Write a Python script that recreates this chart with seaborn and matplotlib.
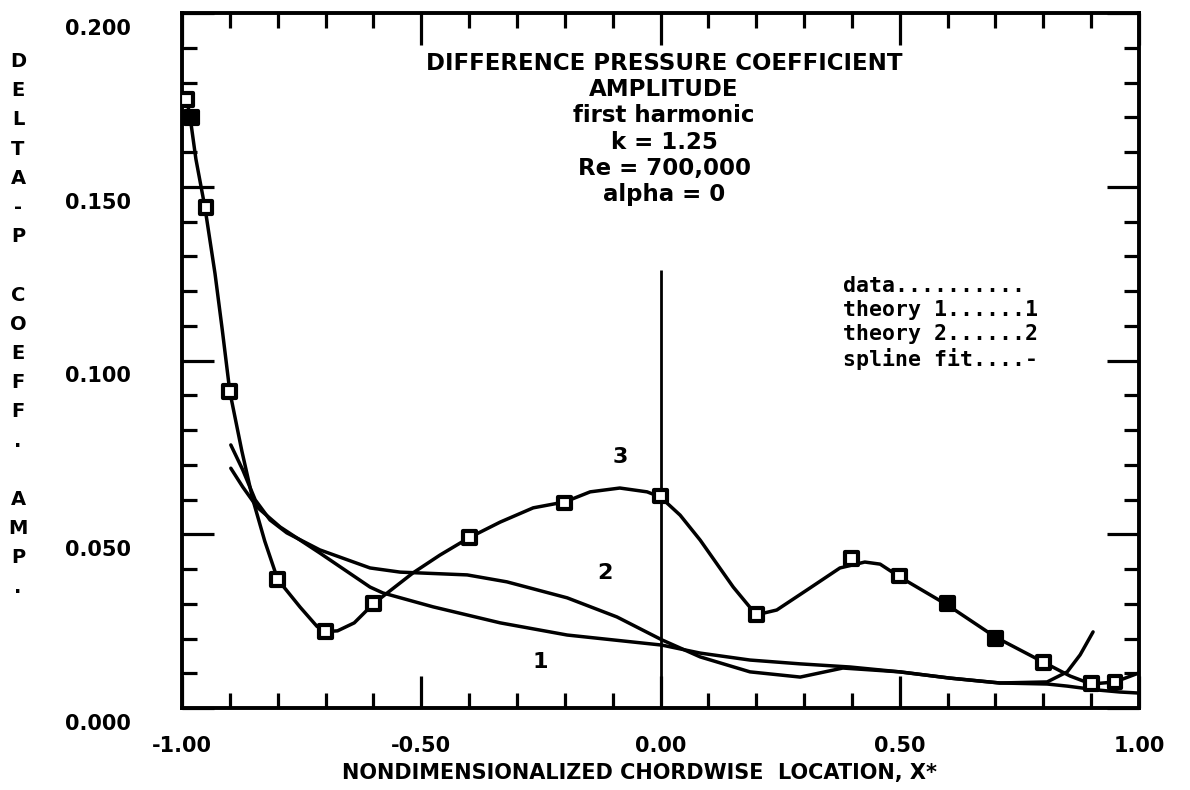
import matplotlib
matplotlib.use("Agg")
import matplotlib.pyplot as plt
import matplotlib.transforms as mtransforms
from matplotlib.ticker import MultipleLocator
import pandas as pd
import seaborn as sns

# ---- measured difference-pressure amplitude (data points) ----
data_x = [-0.99, -0.98, -0.95, -0.90, -0.80, -0.70, -0.60, -0.40, -0.20, 0.00,
          0.20, 0.40, 0.50, 0.60, 0.70, 0.80, 0.90, 0.95]
data_y = [0.175, 0.170, 0.144, 0.091, 0.037, 0.022, 0.030, 0.049, 0.059, 0.061,
          0.027, 0.043, 0.038, 0.030, 0.020, 0.013, 0.007, 0.0075]

# ---- spline fit through the data ----
spline_x = [-0.99, -0.983, -0.971, -0.952, -0.931, -0.916, -0.90, -0.875, -0.852, -0.827,
            -0.80, -0.753, -0.718, -0.70, -0.675, -0.64, -0.60, -0.517, -0.461, -0.40,
            -0.335, -0.266, -0.20, -0.147, -0.085, -0.028, 0.0, 0.041, 0.083, 0.152,
            0.20, 0.243, 0.312, 0.375, 0.427, 0.459, 0.50, 0.60, 0.70, 0.80,
            0.856, 0.90, 0.95, 1.0]
spline_y = [0.175, 0.170, 0.158, 0.144, 0.125, 0.109, 0.091, 0.074, 0.060, 0.048,
            0.037, 0.029, 0.0235, 0.022, 0.0222, 0.0245, 0.030, 0.0389, 0.044, 0.049,
            0.0535, 0.0576, 0.0593, 0.0622, 0.0633, 0.0622, 0.0607, 0.0555, 0.0483, 0.0348,
            0.0268, 0.0282, 0.0345, 0.0403, 0.042, 0.0414, 0.0377, 0.0296, 0.0204, 0.0132,
            0.0092, 0.0069, 0.0075, 0.0101]

# ---- theory 1 ----
theory1_x = [-0.898, -0.873, -0.843, -0.795, -0.712, -0.607, -0.580, -0.475, -0.335, -0.195,
             0.003, 0.083, 0.187, 0.292, 0.396, 0.50, 0.605, 0.709, 0.808, 0.85,
             0.912, 0.96, 1.0]
theory1_y = [0.069, 0.0636, 0.0578, 0.0521, 0.0446, 0.0348, 0.0331, 0.0291, 0.0245, 0.021,
             0.0181, 0.0158, 0.0138, 0.0127, 0.0118, 0.0104, 0.0086, 0.0072, 0.0069, 0.0063,
             0.0052, 0.0046, 0.0043]

# ---- theory 2 ----
theory2_x = [-0.898, -0.873, -0.847, -0.816, -0.781, -0.712, -0.607, -0.544, -0.404, -0.321,
             -0.195, -0.091, 0.003, 0.083, 0.187, 0.292, 0.381, 0.50, 0.605, 0.709,
             0.808, 0.85, 0.877, 0.904]
theory2_y = [0.0757, 0.0685, 0.0599, 0.0541, 0.0504, 0.0455, 0.0403, 0.0391, 0.0383, 0.0363,
             0.0317, 0.0262, 0.0196, 0.0147, 0.0104, 0.0089, 0.0115, 0.0104, 0.0086, 0.0072,
             0.0075, 0.0104, 0.0153, 0.0219]

# mid-chord marker line height
midchord_top = 0.126

x_ticks = [-1.0, -0.5, 0.0, 0.5, 1.0]
x_tick_labels = ["-1.00", "-0.50", "0.00", "0.50", "1.00"]
y_ticks = [0.0, 0.05, 0.10, 0.15, 0.20]
y_tick_labels = ["0.000", "0.050", "0.100", "0.150", "0.200"]

title_lines = ["DIFFERENCE PRESSURE COEFFICIENT", "AMPLITUDE", "first harmonic",
               "k = 1.25", "Re = 700,000", "alpha = 0"]
legend_lines = ["data..........", "theory 1......1", "theory 2......2", "spline fit....-"]
y_label = "DELTA-P COEFF. AMP."
x_label = "NONDIMENSIONALIZED CHORDWISE  LOCATION, X*"
curve_tags = ["1", "2", "3"]

sns.set_theme(style="white")
plt.rcParams["font.family"] = ["DejaVu Sans"]
plt.rcParams["font.weight"] = "bold"

INK = "black"
LW = 2.5

fig = plt.figure(figsize=(11.9, 7.9), dpi=100)
W, H = 1190, 790
ax = fig.add_axes([182 / W, 1 - 708 / H, (1139 - 182) / W, (708 - 13) / H])

# curves
for xs, ys in [(theory1_x, theory1_y), (theory2_x, theory2_y), (spline_x, spline_y)]:
    sns.lineplot(data=pd.DataFrame({"x": xs, "y": ys}), x="x", y="y", ax=ax,
                 color=INK, lw=LW, sort=False, estimator=None)

ax.vlines(0.0, 0.0, midchord_top, color=INK, lw=2.0)

# data squares (a few print solid)
solid = {-0.98, 0.60, 0.70}
faces = [INK if x in solid else "white" for x in data_x]
sns.scatterplot(x=data_x, y=data_y, ax=ax, marker="s", s=85, c=faces,
                edgecolor=INK, linewidth=3.0, zorder=5, legend=False)

ax.set_xlim(-1.0, 1.0)
ax.set_ylim(0.0, 0.2)

for side in ax.spines.values():
    side.set_linewidth(2.8)
    side.set_color(INK)
    side.set_visible(True)

ax.xaxis.set_major_locator(MultipleLocator(0.5))
ax.xaxis.set_minor_locator(MultipleLocator(0.1))
ax.yaxis.set_major_locator(MultipleLocator(0.05))
ax.yaxis.set_minor_locator(MultipleLocator(0.01))
ax.set_xticks(x_ticks, x_tick_labels)
ax.set_yticks(y_ticks, y_tick_labels)

ax.tick_params(which="both", direction="in", top=True, right=True,
               bottom=True, left=True, color=INK, width=2.3)
ax.tick_params(which="major", length=23)
ax.tick_params(which="minor", length=10.5)
ax.tick_params(axis="x", which="major", pad=20, labelsize=15)
ax.tick_params(axis="y", which="major", pad=37, labelsize=15)
for lab in ax.get_xticklabels() + ax.get_yticklabels():
    lab.set_fontweight("bold")
    lab.set_color(INK)
shift = mtransforms.ScaledTranslation(0, -14 / 100, fig.dpi_scale_trans)
for lab in ax.get_yticklabels():
    lab.set_transform(lab.get_transform() + shift)

ax.set_xlabel("")
ax.set_ylabel("")

# stacked vertical axis title
fig.text(18 / W, 1 - 52 / H, "\n".join(y_label), ha="center", va="top",
         fontsize=14, fontweight="bold", color=INK, linespacing=1.68,
         multialignment="center")

fig.text(640 / W, 1 - 773 / H, x_label, ha="center", va="center",
         fontsize=15, fontweight="bold", color=INK)

# centred title block
fig.text(664 / W, 1 - 52 / H, "\n".join(title_lines), ha="center", va="top",
         fontsize=16.5, fontweight="bold", color=INK, linespacing=1.18,
         multialignment="center")

# key
fig.text(843 / W, 1 - 276 / H, "\n".join(legend_lines), ha="left", va="top",
         fontsize=15.5, fontweight="bold", color=INK, linespacing=1.24,
         family="DejaVu Sans Mono")

# curve numbers
for tag, tx, ty in zip(curve_tags, [-0.252, -0.116, -0.085], [0.0132, 0.0388, 0.0722]):
    ax.text(tx, ty, tag, ha="center", va="center", fontsize=16,
            fontweight="bold", color=INK)

fig.savefig("out.png", dpi=100, facecolor="white")
